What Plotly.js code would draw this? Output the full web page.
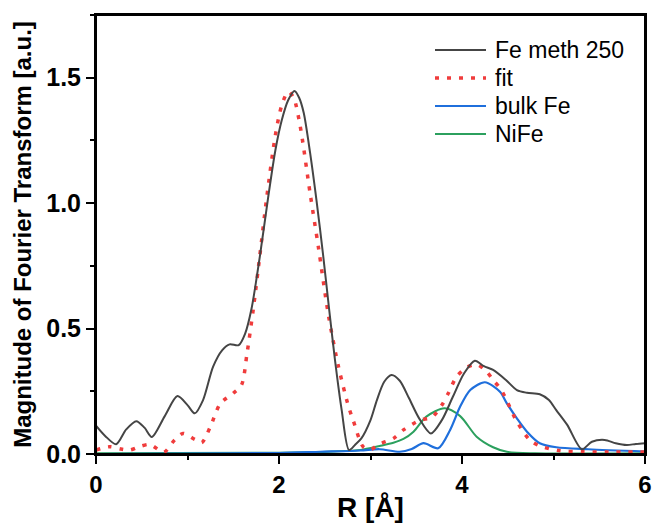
<!DOCTYPE html>
<html>
<head>
<meta charset="utf-8">
<script src="https://cdn.plot.ly/plotly-3.0.1.min.js"></script>
<style>
html,body{margin:0;padding:0;background:#fff;}
#wrap{position:relative;width:654px;height:523px;}
#chart{width:654px;height:523px;}
#frame{position:absolute;left:95px;top:14px;width:551px;height:441px;box-sizing:border-box;border:2px solid #000;pointer-events:none;}
</style>
</head>
<body>
<div id="wrap"><div id="chart"></div><div id="frame"></div></div>
<script>
// Fe meth 250 (experimental)
const expR = [0, 0.1, 0.22, 0.33, 0.44, 0.53, 0.61, 0.75, 0.89, 1.0, 1.08, 1.17, 1.28, 1.38, 1.46, 1.56, 1.63, 1.70, 1.79, 1.88, 1.96, 2.03, 2.10, 2.17, 2.22, 2.27, 2.34, 2.41, 2.48, 2.55, 2.61, 2.685, 2.765, 2.83, 2.90, 3.0, 3.07, 3.15, 3.23, 3.32, 3.42, 3.53, 3.66, 3.78, 3.90, 4.02, 4.14, 4.24, 4.34, 4.48, 4.60, 4.71, 4.85, 4.95, 5.03, 5.15, 5.31, 5.42, 5.56, 5.68, 5.80, 5.90, 6.0];
const expV = [0.113, 0.072, 0.039, 0.098, 0.131, 0.105, 0.068, 0.15, 0.231, 0.195, 0.162, 0.215, 0.348, 0.414, 0.437, 0.434, 0.48, 0.58, 0.786, 1.019, 1.21, 1.33, 1.41, 1.447, 1.42, 1.36, 1.20, 1.01, 0.80, 0.57, 0.38, 0.175, 0.016, 0.036, 0.062, 0.135, 0.215, 0.288, 0.315, 0.292, 0.223, 0.143, 0.082, 0.135, 0.228, 0.32, 0.372, 0.35, 0.335, 0.295, 0.255, 0.244, 0.238, 0.215, 0.175, 0.116, 0.019, 0.049, 0.056, 0.043, 0.036, 0.04, 0.043];
// fit
const fitR = [0, 0.15, 0.27, 0.37, 0.48, 0.59, 0.74, 0.86, 0.95, 1.08, 1.155, 1.25, 1.36, 1.50, 1.59, 1.65, 1.72, 1.79, 1.865, 1.96, 2.03, 2.10, 2.16, 2.23, 2.34, 2.43, 2.54, 2.65, 2.76, 2.81, 2.92, 3.0, 3.1, 3.25, 3.36, 3.54, 3.67, 3.78, 3.85, 3.94, 4.05, 4.16, 4.27, 4.34, 4.43, 4.60, 4.74, 4.85, 5.07, 5.33, 5.6, 6.0];
const fitV = [0.016, 0.029, 0.02, 0.016, 0.03, 0.038, 0.007, 0.056, 0.082, 0.058, 0.045, 0.109, 0.202, 0.242, 0.275, 0.40, 0.58, 0.79, 1.02, 1.27, 1.39, 1.444, 1.42, 1.31, 1.039, 0.826, 0.554, 0.348, 0.189, 0.135, 0.029, 0.018, 0.04, 0.062, 0.096, 0.135, 0.146, 0.195, 0.242, 0.308, 0.345, 0.357, 0.328, 0.295, 0.255, 0.129, 0.056, 0.032, 0.013, 0.009, 0.008, 0.008];
// bulk Fe
const bulkR = [0, 1.0, 2.0, 2.45, 2.89, 3.1, 3.32, 3.45, 3.58, 3.74, 3.87, 3.98, 4.09, 4.25, 4.415, 4.49, 4.60, 4.71, 4.85, 5.03, 5.38, 6.0];
const bulkV = [0.0, 0.002, 0.004, 0.009, 0.014, 0.019, 0.009, 0.02, 0.043, 0.023, 0.096, 0.189, 0.255, 0.286, 0.248, 0.202, 0.142, 0.089, 0.043, 0.027, 0.019, 0.01];
// NiFe
const nifeR = [0, 2.0, 2.6, 2.89, 3.1, 3.25, 3.36, 3.47, 3.61, 3.81, 3.98, 4.16, 4.34, 4.49, 4.8, 6.0];
const nifeV = [0.003, 0.005, 0.01, 0.016, 0.032, 0.045, 0.06, 0.089, 0.149, 0.182, 0.151, 0.069, 0.027, 0.009, 0.003, 0.003];

const seriesNames = ['Fe meth 250', 'fit', 'bulk Fe', 'NiFe'];
const xTicks = [0, 2, 4, 6];
const yTicks = [0, 0.5, 1.0, 1.5];

const colors = ['#454545', '#f03c3c', '#1f6fdc', '#2ca05e'];
const widths = [2, 3.5, 2.2, 2];
const dashes = ['solid', '4px,8px', 'solid', 'solid'];

const traces = [
  {x: nifeR, y: nifeV, name: seriesNames[3], mode: 'lines', line: {color: colors[3], width: widths[3], shape: 'spline', smoothing: 0.8}},
  {x: bulkR, y: bulkV, name: seriesNames[2], mode: 'lines', line: {color: colors[2], width: widths[2], shape: 'spline', smoothing: 0.8}},
  {x: fitR, y: fitV, name: seriesNames[1], mode: 'lines', line: {color: colors[1], width: widths[1], dash: dashes[1], shape: 'spline', smoothing: 0.8}},
  {x: expR, y: expV, name: seriesNames[0], mode: 'lines', line: {color: colors[0], width: widths[0], shape: 'spline', smoothing: 0.8}}
];

const font = 'Liberation Sans, Arial, sans-serif';
// plot area in px: left 96, right 645, top 15, bottom 454
const px2x = p => (p - 96) / 549;
const py2y = p => (454 - p) / 439;

const shapes = [];
const annotations = [];
const legendY = [50, 78, 106, 134];
seriesNames.forEach((n, i) => {
  shapes.push({type: 'line', xref: 'paper', yref: 'paper', x0: px2x(435), x1: px2x(486), y0: py2y(legendY[i]), y1: py2y(legendY[i]),
    line: {color: colors[i], width: i === 1 ? 3.5 : 2.2, dash: dashes[i]}});
  annotations.push({xref: 'paper', yref: 'paper', x: px2x(493), y: py2y(legendY[i]), xanchor: 'left', yanchor: 'middle', showarrow: false,
    text: n, font: {size: 23, family: font, color: '#000'}});
});

const layout = {
  width: 654, height: 523,
  margin: {l: 96, r: 9, t: 15, b: 69},
  paper_bgcolor: '#fff', plot_bgcolor: '#fff',
  showlegend: false,
  shapes: shapes,
  annotations: annotations,
  xaxis: {
    range: [0, 6], tickvals: xTicks,
    showgrid: false, zeroline: false,
    showline: true, linewidth: 2, linecolor: '#000', mirror: true,
    ticks: 'outside', ticklen: 8, tickwidth: 2, tickcolor: '#000',
    minor: {dtick: 1, tick0: 0, ticks: 'outside', ticklen: 4, tickwidth: 2, tickcolor: '#000', showgrid: false},
    tickfont: {size: 24, family: font, weight: 'bold', color: '#000'},
    title: {text: '<b>R [Å]</b>', font: {size: 28, family: font, color: '#000'}, standoff: 6}
  },
  yaxis: {
    range: [0, 1.75], tickvals: yTicks, tickformat: '.1f',
    showgrid: false, zeroline: false,
    showline: true, linewidth: 2, linecolor: '#000', mirror: true,
    ticks: 'outside', ticklen: 8, tickwidth: 2, tickcolor: '#000',
    minor: {dtick: 0.25, tick0: 0, ticks: 'outside', ticklen: 4, tickwidth: 2, tickcolor: '#000', showgrid: false},
    tickfont: {size: 25, family: font, weight: 'bold', color: '#000'},
    title: {text: '<b>Magnitude of Fourier Transform [a.u.]</b>', font: {size: 24, family: font, color: '#000'}, standoff: 8}
  }
};

Plotly.newPlot('chart', traces, layout, {staticPlot: true});
</script>
</body>
</html>
